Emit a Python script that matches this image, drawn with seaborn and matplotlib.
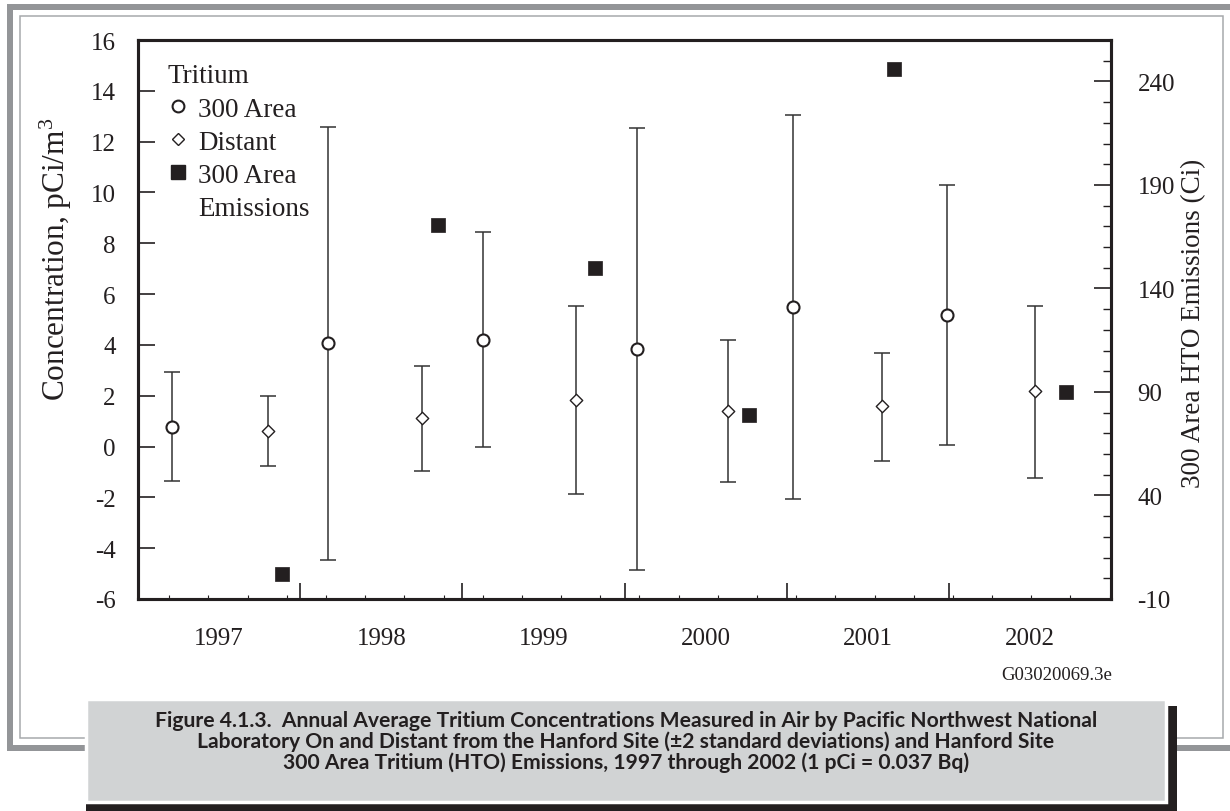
import numpy as np
import matplotlib
matplotlib.use("Agg")
import matplotlib.pyplot as plt
import seaborn as sns
from matplotlib.patches import Rectangle
from matplotlib.lines import Line2D
from matplotlib.ticker import MultipleLocator

# 300 Area annual averages (pCi/m3) with +/-2 SD range
area_x = [1997.21, 1998.17, 1999.13, 2000.08, 2001.04, 2001.99]
area_mean = [0.78, 4.08, 4.20, 3.84, 5.50, 5.18]
area_hi = [2.95, 12.59, 8.43, 12.55, 13.03, 10.31]
area_lo = [-1.37, -4.47, -0.03, -4.85, -2.05, 0.05]

# Distant stations
dist_x = [1997.80, 1998.75, 1999.70, 2000.64, 2001.59, 2002.53]
dist_mean = [0.60, 1.11, 1.83, 1.40, 1.60, 2.18]
dist_hi = [2.00, 3.18, 5.54, 4.18, 3.70, 5.54]
dist_lo = [-0.77, -0.98, -1.87, -1.40, -0.55, -1.24]

# 300 Area HTO emissions (Ci), right axis
emis_x = [1997.89, 1998.85, 1999.82, 2000.77, 2001.66, 2002.72]
emis_ci = [2.3, 170.6, 149.7, 79.0, 245.8, 90.0]

years = [1997, 1998, 1999, 2000, 2001, 2002]

caption = ("Figure 4.1.3.  Annual Average Tritium Concentrations Measured in Air by Pacific Northwest National\n"
           "Laboratory On and Distant from the Hanford Site (\u00b12 standard deviations) and Hanford Site\n"
           "300 Area Tritium (HTO) Emissions, 1997 through 2002 (1 pCi = 0.037 Bq)")

ink = '#231f20'

sns.set_theme(style="ticks")
plt.rcParams['font.family'] = ['Liberation Serif', 'DejaVu Serif']
plt.rcParams['mathtext.fontset'] = 'custom'
plt.rcParams['mathtext.rm'] = 'Liberation Serif'
plt.rcParams['mathtext.it'] = 'Liberation Serif:italic'
plt.rcParams['axes.unicode_minus'] = False

W, H = 1230, 812
fig = plt.figure(figsize=(W / 100, H / 100), dpi=100)

# page frame + caption box, drawn in pixel coordinates
bg = fig.add_axes([0, 0, 1, 1], zorder=0)
bg.set_xlim(0, W)
bg.set_ylim(H, 0)
bg.axis('off')
band = '#939598'
bg.add_patch(Rectangle((7, 5), W - 7, 6, color=band, lw=0))
bg.add_patch(Rectangle((7, 5), 6, 747, color=band, lw=0))
bg.add_patch(Rectangle((7, 746), W - 7, 6, color=band, lw=0))
bg.add_patch(Rectangle((19.5, 17), 1223 - 19.5, 739 - 17, fill=False, ec='#a7a9ac', lw=1.1))
bg.add_patch(Rectangle((86, 707), 1091, 120, color=ink, lw=0))
bg.add_patch(Rectangle((86, 700), 1080, 103, fc='#d1d3d4', ec='white', lw=2.5))
bg.text(626, 742, caption, ha='center', va='center', fontsize=15.2, fontweight='bold',
        family=['Lato', 'DejaVu Sans'], color=ink, linespacing=1.04)
bg.text(1057, 676, 'G03020069.3e', ha='center', va='center', fontsize=13.5, color=ink)

# main axes
ax = fig.add_axes([138 / W, 1 - 600 / H, (1111 - 138) / W, (600 - 41) / H], zorder=1)
ax.set_facecolor('none')

ax.errorbar(area_x, area_mean,
            yerr=[np.subtract(area_mean, area_lo), np.subtract(area_hi, area_mean)],
            fmt='none', ecolor='#333333', elinewidth=1.1, capsize=6, capthick=1.1, zorder=2)
ax.errorbar(dist_x, dist_mean,
            yerr=[np.subtract(dist_mean, dist_lo), np.subtract(dist_hi, dist_mean)],
            fmt='none', ecolor='#333333', elinewidth=1.1, capsize=6, capthick=1.1, zorder=2)
sns.scatterplot(x=area_x, y=area_mean, marker='o', s=75, facecolor='white',
                edgecolor=ink, linewidth=1.5, ax=ax, zorder=3)
sns.scatterplot(x=dist_x, y=dist_mean, marker='D', s=40, facecolor='white',
                edgecolor=ink, linewidth=1.0, ax=ax, zorder=3)

ax.set_xlim(1997, 2003)
ax.set_ylim(-6, 16)
ax.set_yticks(np.arange(-6, 17, 2))
ax.tick_params(axis='y', which='major', direction='in', length=12, width=1.2,
               labelsize=18, pad=16, left=True, right=False, colors=ink)
ax.set_xticks(years[1:])
ax.set_xticklabels([])
ax.set_xticks(np.arange(1997.193, 2003.0, 0.2416), minor=True)
ax.tick_params(axis='x', which='major', direction='in', length=11.5, width=1.2, top=False, colors=ink)
ax.tick_params(axis='x', which='minor', direction='in', length=3, width=0.8, top=False, colors=ink)
ax.set_ylabel(r'Concentration, pCi/m$^3$', fontsize=22.5, color=ink)
ax.yaxis.set_label_coords(-0.066, 0.61)

sec = ax.secondary_xaxis('bottom')
sec.set_xticks([y + 0.5 for y in years])
sec.set_xticklabels([str(y) for y in years])
sec.tick_params(length=0, pad=20, labelsize=18, colors=ink)
sec.spines['bottom'].set_visible(False)

# right axis: emissions
ax2 = ax.twinx()
sns.scatterplot(x=emis_x, y=emis_ci, marker='s', s=110, color=ink, edgecolor=ink,
                linewidth=0.5, ax=ax2, zorder=3)
ax2.set_ylim(-10, 260)
ax2.set_yticks([-10, 40, 90, 140, 190, 240])
ax2.yaxis.set_minor_locator(MultipleLocator(10))
ax2.tick_params(axis='y', which='major', direction='in', length=12, width=1.2,
                labelsize=18, pad=19, colors=ink)
ax2.tick_params(axis='y', which='minor', direction='in', length=6, width=1.0, colors=ink)
ax2.set_ylabel('300 Area HTO Emissions (Ci)', fontsize=19.5, color=ink, rotation=90)
ax2.yaxis.set_label_coords(1.072, 0.495)

for a in (ax, ax2):
    for sp in a.spines.values():
        sp.set_linewidth(2.2)
        sp.set_color(ink)

# legend: last row carries the wrapped word with no marker
handles = [
    Line2D([], [], ls='', marker='o', ms=8.5, mfc='white', mec=ink, mew=1.5),
    Line2D([], [], ls='', marker='D', ms=6.3, mfc='white', mec=ink, mew=1.0),
    Line2D([], [], ls='', marker='s', ms=10, mfc=ink, mec=ink),
    Line2D([], [], ls='', marker=None),
]
labels = ['300 Area', 'Distant', '300 Area', 'Emissions']
leg = ax2.legend(handles, labels, title='Tritium', loc='upper left',
                 bbox_to_anchor=(0.03, 0.958), frameon=False, fontsize=19.5,
                 title_fontsize=19.5, alignment='left', handlelength=0.8,
                 handletextpad=0.35, labelspacing=0.3, borderaxespad=0, borderpad=0)
leg._legend_handle_box.sep = 17
for t in leg.get_texts():
    t.set_color(ink)
leg.get_title().set_color(ink)

fig.savefig('out.png', dpi=100)
